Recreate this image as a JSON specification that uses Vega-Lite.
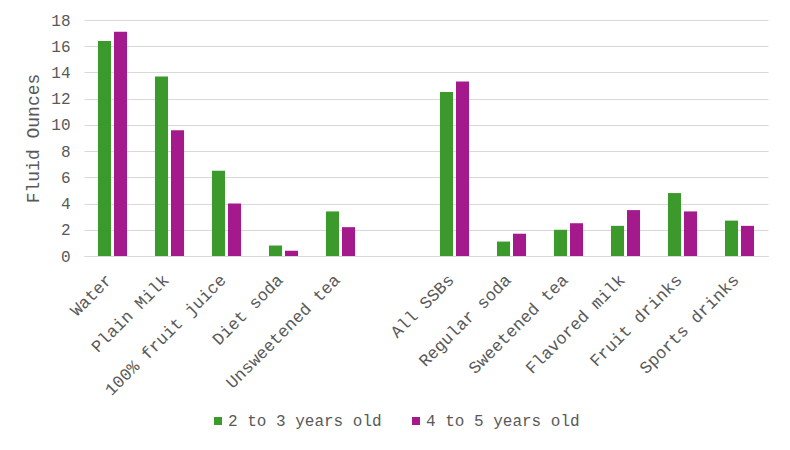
{
  "$schema": "https://vega.github.io/schema/vega-lite/v6.json",
  "autosize": {"type": "none"},
  "width": 684,
  "height": 236,
  "padding": {"left": 84, "top": 20, "right": 22, "bottom": 194},
  "background": "white",
  "config": {
    "font": "Liberation Mono",
    "view": {"stroke": null},
    "axis": {"labelColor": "#595959", "titleColor": "#595959", "labelFont": "Liberation Mono", "titleFont": "Liberation Mono"},
    "legend": {"labelFont": "Liberation Mono", "labelColor": "#595959"}
  },
  "data": {
    "values": [
      {"drink": "Water", "age": "2 to 3 years old", "oz": 16.4},
      {"drink": "Water", "age": "4 to 5 years old", "oz": 17.1},
      {"drink": "Plain Milk", "age": "2 to 3 years old", "oz": 13.7},
      {"drink": "Plain Milk", "age": "4 to 5 years old", "oz": 9.6},
      {"drink": "100% fruit juice", "age": "2 to 3 years old", "oz": 6.5},
      {"drink": "100% fruit juice", "age": "4 to 5 years old", "oz": 4.0},
      {"drink": "Diet soda", "age": "2 to 3 years old", "oz": 0.8},
      {"drink": "Diet soda", "age": "4 to 5 years old", "oz": 0.4},
      {"drink": "Unsweetened tea", "age": "2 to 3 years old", "oz": 3.4},
      {"drink": "Unsweetened tea", "age": "4 to 5 years old", "oz": 2.2},
      {"drink": "All SSBs", "age": "2 to 3 years old", "oz": 12.5},
      {"drink": "All SSBs", "age": "4 to 5 years old", "oz": 13.3},
      {"drink": "Regular soda", "age": "2 to 3 years old", "oz": 1.1},
      {"drink": "Regular soda", "age": "4 to 5 years old", "oz": 1.7},
      {"drink": "Sweetened tea", "age": "2 to 3 years old", "oz": 2.0},
      {"drink": "Sweetened tea", "age": "4 to 5 years old", "oz": 2.5},
      {"drink": "Flavored milk", "age": "2 to 3 years old", "oz": 2.3},
      {"drink": "Flavored milk", "age": "4 to 5 years old", "oz": 3.5},
      {"drink": "Fruit drinks", "age": "2 to 3 years old", "oz": 4.8},
      {"drink": "Fruit drinks", "age": "4 to 5 years old", "oz": 3.4},
      {"drink": "Sports drinks", "age": "2 to 3 years old", "oz": 2.7},
      {"drink": "Sports drinks", "age": "4 to 5 years old", "oz": 2.3}
    ]
  },
  "mark": {"type": "bar"},
  "encoding": {
    "x": {
      "field": "drink",
      "type": "nominal",
      "scale": {
        "domain": ["Water", "Plain Milk", "100% fruit juice", "Diet soda", "Unsweetened tea", " ", "All SSBs", "Regular soda", "Sweetened tea", "Flavored milk", "Fruit drinks", "Sports drinks"],
        "paddingInner": 0.49,
        "paddingOuter": 0.245
      },
      "axis": {
        "title": null,
        "labelAngle": -45,
        "labelAlign": "right",
        "labelBaseline": "middle",
        "labelFontSize": 17,
        "labelPadding": 21,
        "labelOffset": -3,
        "ticks": false,
        "domainColor": "#d9d9d9",
        "domainWidth": 1
      }
    },
    "xOffset": {
      "field": "age",
      "type": "nominal",
      "scale": {"paddingInner": 0.1875, "paddingOuter": 0}
    },
    "y": {
      "field": "oz",
      "type": "quantitative",
      "scale": {"domain": [0, 18]},
      "axis": {
        "title": "Fluid Ounces",
        "titleFontSize": 18,
        "titleFontWeight": "normal",
        "titlePadding": 8,
        "values": [0, 2, 4, 6, 8, 10, 12, 14, 16, 18],
        "labelFontSize": 16,
        "labelPadding": 14,
        "ticks": false,
        "domain": false,
        "gridColor": "#d9d9d9",
        "gridWidth": 1
      }
    },
    "color": {
      "field": "age",
      "type": "nominal",
      "scale": {"domain": ["2 to 3 years old", "4 to 5 years old"], "range": ["#3b9a2b", "#a4198b"]},
      "legend": {
        "title": null,
        "orient": "none",
        "direction": "horizontal",
        "legendX": 126,
        "legendY": 393,
        "symbolType": "square",
        "symbolSize": 64,
        "symbolStrokeWidth": 0,
        "labelFontSize": 16,
        "labelOffset": 2,
        "columnPadding": 26
      }
    }
  }
}
